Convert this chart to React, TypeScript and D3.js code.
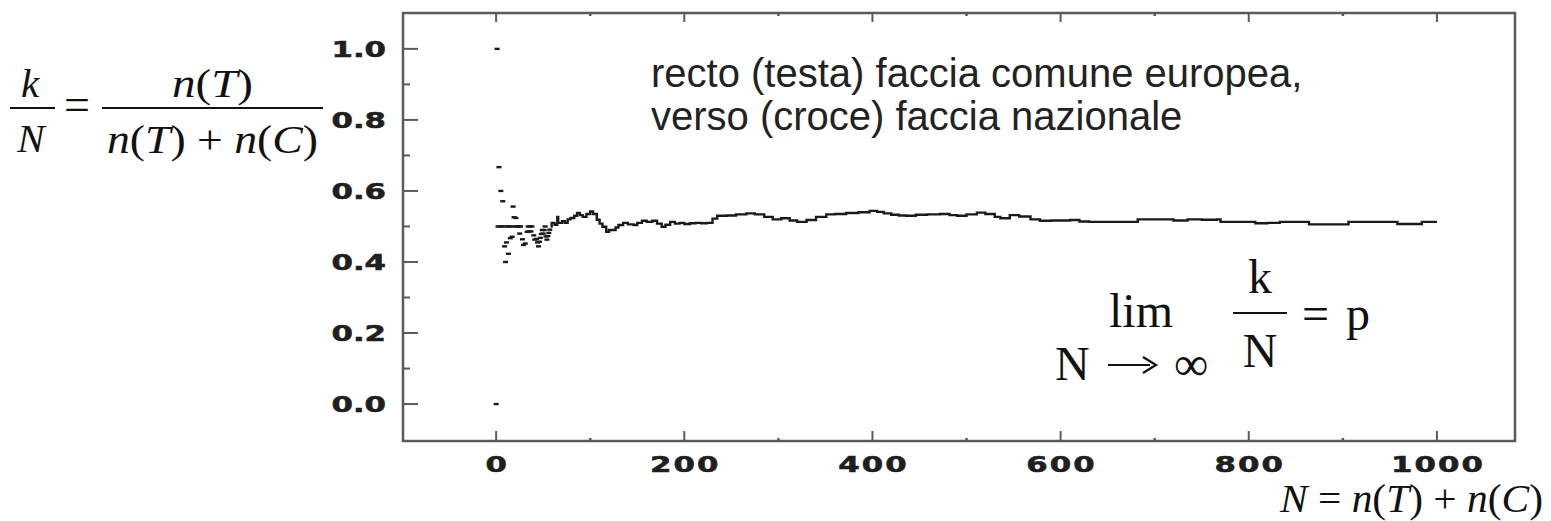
import React from "react";
import * as d3 from "d3";

// x tick values (major / minor)
const xMajor = [0, 200, 400, 600, 800, 1000];
const xMinor = [100, 300, 500, 700, 900];
// y tick values (major / minor)
const yMajor = [0, 0.2, 0.4, 0.6, 0.8, 1.0];
const yMinor = [0.1, 0.3, 0.5, 0.7, 0.9];

// early, scattered values of k/N (N small)
const scatterN = [0, 1, 2, 3, 4, 5, 6, 7, 8, 9, 10, 11, 12, 13, 14, 15, 16, 17, 18, 19, 20, 21, 22, 23, 24, 25, 26, 28, 29, 31, 33, 34, 35, 36, 37, 38, 40, 41, 43, 44, 45, 46, 47, 48, 49, 50, 51, 52, 53, 54, 55, 56, 57];
const scatterV = [0, 1, 0.5, 0.667, 0.5, 0.6, 0.5, 0.571, 0.5, 0.444, 0.4, 0.455, 0.5, 0.423, 0.5, 0.467, 0.5, 0.471, 0.556, 0.526, 0.5, 0.524, 0.5, 0.5, 0.5, 0.48, 0.5, 0.464, 0.448, 0.452, 0.485, 0.5, 0.486, 0.5, 0.486, 0.5, 0.475, 0.463, 0.465, 0.455, 0.444, 0.457, 0.468, 0.479, 0.49, 0.48, 0.49, 0.5, 0.472, 0.463, 0.473, 0.482, 0.491];

// later, continuous run of k/N
const lineN = [58, 59, 62, 65, 66, 70, 73, 76, 79, 83, 86, 89, 92, 96, 100, 103, 107, 110, 113, 117, 120, 123, 127, 130, 135, 140, 146, 150, 155, 160, 166, 171, 176, 180, 185, 190, 195, 200, 206, 212, 218, 224, 230, 235, 245, 255, 266, 275, 285, 294, 303, 312, 320, 330, 340, 351, 360, 372, 385, 397, 405, 412, 420, 428, 436, 446, 458, 472, 482, 490, 500, 511, 520, 530, 536, 546, 556, 568, 578, 590, 600, 610, 620, 630, 650, 679, 682, 700, 720, 735, 750, 766, 770, 805, 807, 820, 833, 862, 864, 904, 906, 957, 958, 982, 984, 1000];
const lineV = [0.5, 0.51, 0.505, 0.527, 0.51, 0.515, 0.51, 0.52, 0.524, 0.53, 0.538, 0.532, 0.527, 0.535, 0.542, 0.535, 0.519, 0.508, 0.499, 0.485, 0.49, 0.49, 0.497, 0.504, 0.51, 0.506, 0.504, 0.51, 0.516, 0.513, 0.516, 0.508, 0.499, 0.505, 0.513, 0.508, 0.51, 0.507, 0.509, 0.51, 0.509, 0.51, 0.522, 0.53, 0.531, 0.534, 0.537, 0.534, 0.527, 0.52, 0.523, 0.517, 0.513, 0.518, 0.527, 0.534, 0.535, 0.538, 0.54, 0.544, 0.541, 0.537, 0.533, 0.531, 0.53, 0.533, 0.534, 0.535, 0.532, 0.53, 0.534, 0.539, 0.535, 0.527, 0.523, 0.532, 0.528, 0.52, 0.516, 0.517, 0.517, 0.518, 0.514, 0.513, 0.513, 0.513, 0.52, 0.52, 0.517, 0.52, 0.519, 0.52, 0.513, 0.513, 0.509, 0.51, 0.513, 0.513, 0.506, 0.506, 0.513, 0.513, 0.507, 0.507, 0.513, 0.513];

const W = 1551;
const H = 521;
const left = 403, right = 1515, top = 13, bottom = 441;

export default function App() {
  const x = d3.scaleLinear().domain([-99, 1083]).range([left, right]);
  const y = d3.scaleLinear().domain([-0.104, 1.101]).range([bottom, top]);

  const pts = lineN.map((n, i) => [n, lineV[i]] as [number, number]);
  const path = d3
    .line<[number, number]>()
    .x((d) => x(d[0]))
    .y((d) => y(d[1]))
    .curve(d3.curveStepAfter)(pts) || "";

  const axisCol = "#5a5a5a";
  const labCol = "#1f1f1f";
  const yTickFont = { fontFamily: "DejaVu Sans", fontWeight: 700, fontSize: 22, letterSpacing: 0 } as const;
  const xTickFont = { fontFamily: "DejaVu Sans", fontWeight: 700, fontSize: 22, letterSpacing: 1.5 } as const;
  const serif = "Liberation Serif, Times New Roman, serif";

  return (
    <svg width={W} height={H} style={{ position: "absolute", left: 0, top: 0, background: "#fff" }}>
      {/* frame */}
      <rect x={left} y={top} width={right - left} height={bottom - top} fill="none" stroke={axisCol} strokeWidth={2.5} />
      {/* y ticks */}
      {yMajor.map((v) => (
        <line key={"ym" + v} x1={left} x2={left + 15} y1={y(v)} y2={y(v)} stroke={axisCol} strokeWidth={2} />
      ))}
      {yMinor.map((v) => (
        <line key={"yn" + v} x1={left} x2={left + 7} y1={y(v)} y2={y(v)} stroke={axisCol} strokeWidth={2} />
      ))}
      {/* x ticks */}
      {xMajor.map((v) => (
        <g key={"xm" + v}>
          <line x1={x(v)} x2={x(v)} y1={bottom} y2={bottom - 10} stroke={axisCol} strokeWidth={2} />
          <line x1={x(v)} x2={x(v)} y1={top} y2={top + 9} stroke={axisCol} strokeWidth={2} />
        </g>
      ))}
      {xMinor.map((v) => (
        <g key={"xn" + v}>
          <line x1={x(v)} x2={x(v)} y1={bottom} y2={bottom - 3} stroke={axisCol} strokeWidth={2.5} />
          <line x1={x(v)} x2={x(v)} y1={top} y2={top + 3} stroke={axisCol} strokeWidth={2.5} />
        </g>
      ))}
      {/* y labels */}
      {yMajor.map((v) => (
        <text key={"yl" + v} transform={`translate(386,${y(v) + 8}) scale(1.4,1)`} textAnchor="end" fill={labCol} stroke={labCol} strokeWidth={0.6} style={yTickFont}>
          {v.toFixed(1)}
        </text>
      ))}
      {/* x labels */}
      {xMajor.map((v) => (
        <text key={"xl" + v} transform={`translate(${x(v) + 1},472) scale(1.4,1)`} textAnchor="middle" fill={labCol} stroke={labCol} strokeWidth={0.6} style={xTickFont}>
          {String(v)}
        </text>
      ))}

      {/* data: scattered early values */}
      {scatterN.map((n, i) => (
        <rect key={"s" + i} x={x(n) - 2.5} y={y(scatterV[i]) - 1.2} width={5} height={2.4} fill="#1a1a1a" />
      ))}
      {/* data: continuous run */}
      <path d={path} fill="none" stroke="#1a1a1a" strokeWidth={2.4} />

      {/* title text */}
      <text x={651} y={87} fontFamily="Liberation Sans, Arial, sans-serif" fontSize={40} fill="#222">
        recto (testa) faccia comune europea,
      </text>
      <text x={651} y={130} fontFamily="Liberation Sans, Arial, sans-serif" fontSize={40} fill="#222">
        verso (croce) faccia nazionale
      </text>

      {/* left formula k/N = n(T)/(n(T)+n(C)) */}
      <g fontFamily={serif} fill="#111" fontSize={41}>
        <text x={30} y={97} textAnchor="middle" fontStyle="italic">k</text>
        <line x1={10} x2={55} y1={108} y2={108} stroke="#111" strokeWidth={1.8} />
        <text x={31} y={152} textAnchor="middle" fontStyle="italic">N</text>
        <text x={77} y={120} textAnchor="middle" fontSize={46}>=</text>
        <line x1={102} x2={323} y1={108} y2={108} stroke="#111" strokeWidth={1.8} />
        <text x={172} y={97} textLength={81} lengthAdjust="spacingAndGlyphs">
          <tspan fontStyle="italic">n</tspan>(<tspan fontStyle="italic">T</tspan>)
        </text>
        <text x={107} y={153} textLength={211} lengthAdjust="spacingAndGlyphs">
          <tspan fontStyle="italic">n</tspan>(<tspan fontStyle="italic">T</tspan>) + <tspan fontStyle="italic">n</tspan>(<tspan fontStyle="italic">C</tspan>)
        </text>
      </g>

      {/* bottom right axis title */}
      <text x={1280} y={512} fontFamily={serif} fontSize={40} fill="#111" textLength={263} lengthAdjust="spacingAndGlyphs">
        <tspan fontStyle="italic">N</tspan> = <tspan fontStyle="italic">n</tspan>(<tspan fontStyle="italic">T</tspan>) + <tspan fontStyle="italic">n</tspan>(<tspan fontStyle="italic">C</tspan>)
      </text>

      {/* limit formula */}
      <g fontFamily={serif} fill="#111" fontSize={48}>
        <text x={1141} y={327} textAnchor="middle">lim</text>
        <text x={1055} y={380}>N</text>
        <line x1={1108} x2={1150} y1={365} y2={365} stroke="#111" strokeWidth={2.2} />
        <path d="M1143,357 L1156,365 L1143,373" fill="none" stroke="#111" strokeWidth={2.2} />
        <text x={1174} y={380}>∞</text>
        <text x={1260} y={293} textAnchor="middle">k</text>
        <line x1={1233} x2={1287} y1={313} y2={313} stroke="#111" strokeWidth={2} />
        <text x={1260} y={367} textAnchor="middle">N</text>
        <text x={1302} y={330} textLength={68} lengthAdjust="spacing">= p</text>
      </g>
    </svg>
  );
}
